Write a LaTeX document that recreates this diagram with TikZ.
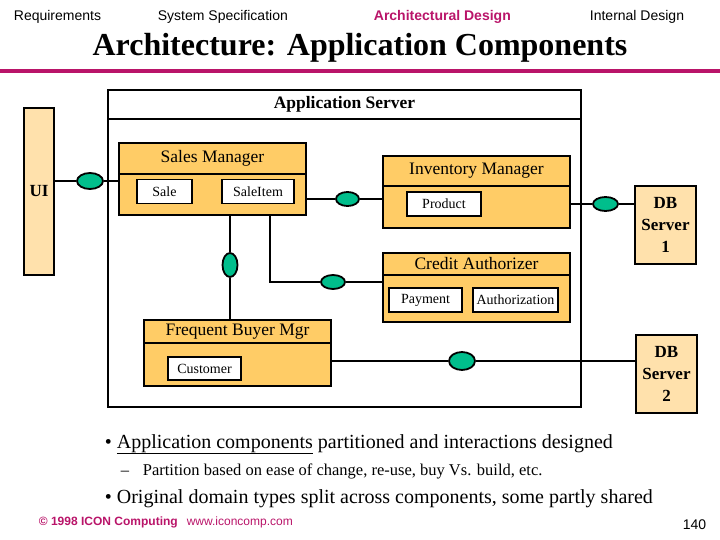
\documentclass[tikz,border=0pt]{standalone}
\usepackage{fontspec}
\setmainfont{Liberation Serif}
\setsansfont{Liberation Sans}
\usetikzlibrary{shapes.geometric}
\definecolor{slidemag}{RGB}{185,20,105}
\definecolor{compfill}{RGB}{255,204,102}
\definecolor{extfill}{RGB}{255,225,172}
\definecolor{portfill}{RGB}{0,190,140}
\begin{document}
\begin{tikzpicture}[x=1pt, y=-1pt, line width=1.8pt,
    every node/.style={inner sep=0pt},
    topic/.style={anchor=base west, font=\sffamily\fontsize{14}{16}\selectfont},
    comphead/.style={draw, fill=compfill, minimum width=187pt, font=\fontsize{17.5}{20}\selectfont},
    compbody/.style={draw, fill=compfill, minimum width=187pt},
    part/.style={draw, fill=white, minimum height=24pt, font=\fontsize{14}{16}\selectfont},
    extern/.style={draw, fill=extfill, align=center, font=\bfseries\fontsize{17}{22}\selectfont},
    port/.style={draw, fill=portfill, ellipse, minimum width=25pt, minimum height=15pt},
    point/.style={anchor=base west, font=\fontsize{20}{24}\selectfont}]
    \useasboundingbox (0,0) rectangle (720,540);

    % slide heading
    \node[topic] (req) at (13,21) {Requirements};
    \node[topic] (spec) at (157,21) {System Specification};
    \node[topic, text=slidemag, font=\sffamily\bfseries\fontsize{14}{16}\selectfont] (arch) at (373,21) {Architectural Design};
    \node[topic] (internal) at (589,21) {Internal Design};
    \node[anchor=base, font=\bfseries\fontsize{32}{36}\selectfont] (title) at (360,56) {Architecture: Application Components};
    \draw[slidemag, line width=4.5pt] (0,71) -- (720,71);

    % application server
    \node[draw, minimum width=473pt, minimum height=29pt, font=\bfseries\fontsize{17.5}{20}\selectfont] (ashead) at (344.5,104.5) {Application Server};
    \node[draw, minimum width=473pt, minimum height=288pt] (asbody) at (344.5,263) {};

    \node[extern, minimum width=30pt, minimum height=167pt] (ui) at (39,191.5) {UI};

    % components
    \node[comphead, minimum height=31pt] (smhead) at (212.5,158.5) {Sales Manager};
    \node[compbody, minimum height=41pt] (smbody) at (212.5,194.5) {};
    \node[part, minimum width=55pt] (sale) at (164.5,191.5) {Sale};
    \node[part, minimum width=72pt] (saleitem) at (258,191.5) {SaleItem};

    \node[comphead, minimum height=30pt] (imhead) at (476.5,171) {Inventory Manager};
    \node[compbody, minimum height=42pt] (imbody) at (476.5,207) {};
    \node[part, minimum width=74pt] (product) at (444,204) {Product};

    \node[comphead, minimum height=22pt] (crhead) at (476.5,264) {Credit Authorizer};
    \node[compbody, minimum height=47pt] (crbody) at (476.5,298.5) {};
    \node[part, minimum width=73pt] (payment) at (425.5,300) {Payment};
    \node[part, minimum width=85pt] (authorization) at (515.5,300) {Authorization};

    \node[comphead, minimum height=23pt] (fbhead) at (237.5,331.5) {Frequent Buyer Mgr};
    \node[compbody, minimum height=43pt] (fbbody) at (237.5,364.5) {};
    \node[part, minimum width=73pt, minimum height=23pt] (customer) at (204.5,368.5) {Customer};

    \node[extern, minimum width=61pt, minimum height=78pt] (db1) at (665.5,225) {DB\\Server\\1};
    \node[extern, minimum width=61pt, minimum height=78pt] (db2) at (666.5,374) {DB\\Server\\2};

    % interfaces
    \node[port, minimum width=26pt, minimum height=16pt] (p1) at (90,181) {};
    \node[port, minimum width=23pt, minimum height=14pt] (p2) at (347.5,199) {};
    \node[port, minimum width=15pt, minimum height=24pt] (p3) at (230,265) {};
    \node[port, minimum width=24pt, minimum height=14pt] (p4) at (333,282) {};
    \node[port, minimum height=14pt] (p5) at (605.5,204) {};
    \node[port, minimum width=26pt, minimum height=18pt] (p6) at (462,361) {};
    \coordinate (k1) at (270,282);

    \draw (ui.east |- p1) -- (p1) -- (smbody.west |- p1);
    \draw (smbody.east |- p2) -- (p2) -- (imbody.west |- p2);
    \draw (smbody.south -| p3) -- (p3) -- (fbhead.north -| p3);
    \draw (smbody.south -| k1) -- (k1) -- (p4) -- (crbody.west |- p4);
    \draw (imbody.east |- p5) -- (p5) -- (db1.west |- p5);
    \draw (fbbody.east |- p6) -- (p6) -- (db2.west |- p6);

    % notes
    \node[point] (b1) at (104,448) {\makebox[12pt][l]{\textbullet}\underline{Application components} partitioned and interactions designed};
    \node[point, font=\fontsize{16.5}{20}\selectfont] (b1a) at (120,475) {\makebox[22pt][l]{–}Partition based on ease of change, re-use, buy Vs. build, etc.};
    \node[point] (b2) at (104,503) {\makebox[12pt][l]{\textbullet}Original domain types split across components, some partly shared};

    \node[anchor=base west, text=slidemag, font=\sffamily\fontsize{12}{14}\selectfont] (copy) at (38,525) {\textbf{© 1998 ICON Computing}\hspace{9pt}www.iconcomp.com};
    \node[anchor=base east, font=\sffamily\fontsize{14}{16}\selectfont] (page) at (707,529) {140};
\end{tikzpicture}
\end{document}
